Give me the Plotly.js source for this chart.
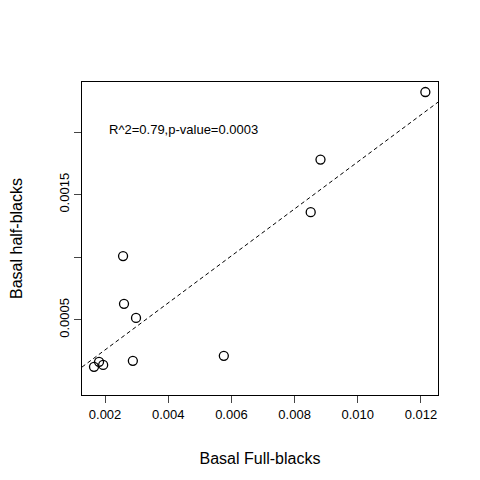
<!DOCTYPE html>
<html><head><script src="https://cdn.plot.ly/plotly-3.0.1.min.js"></script>
<style>body{margin:0}</style></head><body>
<div id="plot" style="width:480px;height:480px"></div>
<script>
var fullBlacks = [0.00165, 0.00181, 0.00194, 0.00288, 0.0026, 0.00257, 0.00298, 0.00576, 0.00851, 0.00882, 0.01214]
var halfBlacks = [0.000125, 0.000165, 0.00014, 0.000173, 0.000628, 0.00101, 0.000516, 0.000213, 0.00136, 0.00178, 0.00232]
var xTicks = [0.002, 0.004, 0.006, 0.008, 0.010, 0.012]
var yTicks = [0.0005, 0.001, 0.0015, 0.002]
var yTickText = ["0.0005", "", "0.0015", ""]

// least squares fit
var n = fullBlacks.length
var mx = fullBlacks.reduce((a, b) => a + b) / n
var my = halfBlacks.reduce((a, b) => a + b) / n
var sxy = 0, sxx = 0
fullBlacks.forEach((x, i) => { sxy += (x - mx) * (halfBlacks[i] - my); sxx += (x - mx) * (x - mx) })
var slope = sxy / sxx, icpt = my - slope * mx
var xr = [0.00127, 0.01254]

var data = [
    { x: fullBlacks, y: halfBlacks, mode: "markers", type: "scatter",
      marker: { symbol: "circle-open", size: 9, color: "#000", line: { width: 1.3 } } },
    { x: xr, y: xr.map(x => icpt + slope * x), mode: "lines", type: "scatter",
      line: { dash: "4px,3px", color: "#000", width: 1 } }
]

var font = { family: "Liberation Sans, Arial, sans-serif", size: 13, color: "#000" }
var layout = {
    width: 480, height: 480, showlegend: false,
    margin: { l: 82, r: 42, t: 82, b: 85 },
    plot_bgcolor: "#fff", paper_bgcolor: "#fff", font: font,
    xaxis: { range: xr, tickvals: xTicks, ticktext: xTicks.map(v => v.toFixed(3)),
        ticks: "outside", ticklen: 7, showgrid: false, zeroline: false,
        showline: true, mirror: true, linecolor: "#000",
        title: { text: "Basal Full-blacks", standoff: 32 } },
    yaxis: { range: [-0.0001, 0.0024], tickvals: yTicks, ticktext: yTickText, tickangle: -90,
        ticks: "outside", ticklen: 7, showgrid: false, zeroline: false,
        showline: true, mirror: true, linecolor: "#000",
        title: { text: "Basal half-blacks", standoff: 30 } },
    annotations: [{ x: 0.00206, y: 0.00202, xanchor: "left", showarrow: false,
        text: "R^2=0.79,p-value=0.0003", font: font }]
}
Plotly.newPlot("plot", data, layout, { displayModeBar: false })
</script></body></html>
